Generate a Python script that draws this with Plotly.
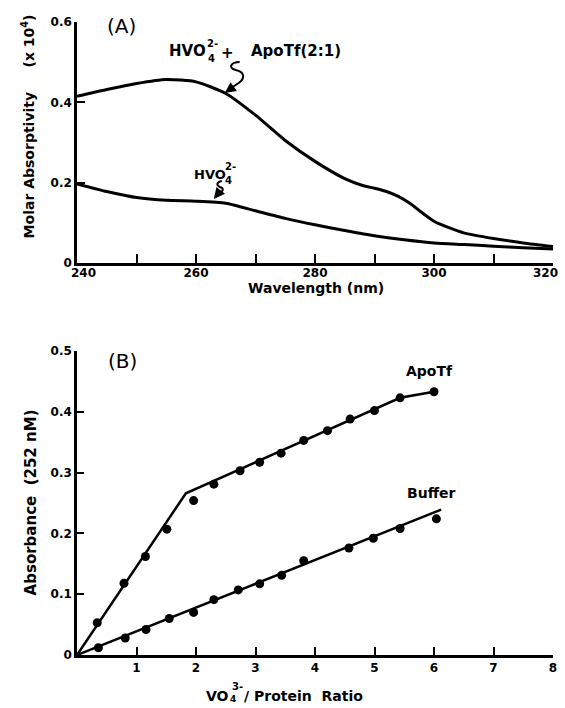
import plotly.graph_objects as go

# ---- Panel A: UV spectra (molar absorptivity x 10^4 vs wavelength) ----
wl_complex = [240, 245, 250, 255, 260, 265, 270, 275, 280, 285, 288, 290, 292, 294,
              296, 298, 300, 302.5, 305, 310, 315, 320]
eps_complex = [0.415, 0.432, 0.447, 0.457, 0.451, 0.422, 0.368, 0.305, 0.253, 0.210,
               0.193, 0.186, 0.178, 0.166, 0.148, 0.125, 0.104, 0.088, 0.075, 0.061,
               0.050, 0.041]

wl_free = [240, 245, 250, 255, 260, 265, 270, 275, 280, 285, 290, 295, 300, 305,
           310, 315, 320]
eps_free = [0.197, 0.178, 0.163, 0.156, 0.154, 0.149, 0.130, 0.111, 0.095, 0.081,
            0.068, 0.058, 0.050, 0.046, 0.042, 0.038, 0.035]

# ---- Panel B: titration, absorbance at 252 nm vs vanadate/protein ratio ----
ratio_apotf = [0.34, 0.79, 1.15, 1.51, 1.96, 2.30, 2.74, 3.07, 3.43, 3.81, 4.21,
               4.59, 5.00, 5.43, 6.00]
abs_apotf = [0.053, 0.118, 0.162, 0.207, 0.254, 0.281, 0.303, 0.317, 0.332, 0.353,
             0.369, 0.388, 0.402, 0.423, 0.433]
fit_apotf_x = [0, 1.83, 5.43, 6.00]
fit_apotf_y = [0, 0.266, 0.423, 0.433]

ratio_buffer = [0.36, 0.81, 1.16, 1.55, 1.96, 2.30, 2.71, 3.07, 3.44, 3.81, 4.57,
                4.98, 5.43, 6.04]
abs_buffer = [0.012, 0.028, 0.042, 0.060, 0.070, 0.091, 0.107, 0.117, 0.131, 0.155,
              0.176, 0.192, 0.208, 0.224]
fit_buffer_x = [0, 6.12]
fit_buffer_y = [0, 0.239]

a_xticks = [240, 250, 260, 270, 280, 290, 300, 310, 320]
a_xlabels = ["", "", "260", "", "280", "", "300", "", ""]
# end labels drawn as text, nudged inward from the axis ends
a_first_label = "240"
a_last_label = "320"
a_yticks = [0, 0.2, 0.4, 0.6]
a_ylabels = ["0", "0.2", "0.4", "0.6"]
b_xticks = [1, 2, 3, 4, 5, 6, 7, 8]
b_xlabels = ["1", "2", "3", "4", "5", "6", "7", "8"]
b_yticks = [0, 0.1, 0.2, 0.3, 0.4, 0.5]
b_ylabels = ["0", "0.1", "0.2", "0.3", "0.4", "0.5"]

W, H = 565, 708
ML, MR, MT, MB = 77, 8, 22, 53
PW, PH = W - ML - MR, H - MT - MB
FONT = "DejaVu Sans"


def paper(xp, yp):
    """Convert page pixel coordinates to paper coordinates."""
    return (xp - ML) / PW, (H - MB - yp) / PH


fig = go.Figure()

line_a = dict(color="black", width=3)
fig.add_trace(go.Scatter(x=wl_complex, y=eps_complex, mode="lines",
                         line=dict(line_a, shape="spline", smoothing=0.6),
                         xaxis="x", yaxis="y", showlegend=False))
fig.add_trace(go.Scatter(x=wl_free, y=eps_free, mode="lines",
                         line=dict(line_a, shape="spline", smoothing=0.6),
                         xaxis="x", yaxis="y", showlegend=False))

line_b = dict(color="black", width=2.5)
fig.add_trace(go.Scatter(x=fit_apotf_x, y=fit_apotf_y, mode="lines", line=line_b,
                         xaxis="x2", yaxis="y2", showlegend=False))
fig.add_trace(go.Scatter(x=fit_buffer_x, y=fit_buffer_y, mode="lines", line=line_b,
                         xaxis="x2", yaxis="y2", showlegend=False))
fig.add_trace(go.Scatter(x=ratio_apotf, y=abs_apotf, mode="markers",
                         marker=dict(color="black", size=9),
                         xaxis="x2", yaxis="y2", showlegend=False))
fig.add_trace(go.Scatter(x=ratio_buffer, y=abs_buffer, mode="markers",
                         marker=dict(color="black", size=9),
                         xaxis="x2", yaxis="y2", showlegend=False))

a_top = paper(0, 263)[1]
b_top = paper(0, 351)[1]

axis_common = dict(showline=True, linecolor="black", linewidth=2.5, showgrid=False,
                   zeroline=False, ticks="inside", tickcolor="black", tickwidth=2,
                   tickfont=dict(family=FONT, size=12, color="black", weight="bold"),
                   fixedrange=True)

fig.update_layout(
    width=W, height=H,
    margin=dict(l=ML, r=MR, t=MT, b=MB),
    paper_bgcolor="white", plot_bgcolor="white",
    font=dict(family=FONT, color="black"),
    xaxis=dict(axis_common, domain=[0, 1], range=[240, 320], anchor="y",
               tickvals=a_xticks, ticktext=a_xlabels, ticklen=9,
               ticklabelstandoff=-3),
    yaxis=dict(axis_common, domain=[a_top, 1], range=[0, 0.6], anchor="x",
               tickvals=a_yticks, ticktext=a_ylabels, ticklen=8),
    xaxis2=dict(axis_common, domain=[0, 1], range=[0, 8], anchor="y2",
                tickvals=b_xticks, ticktext=b_xlabels, ticklen=8),
    yaxis2=dict(axis_common, domain=[0, b_top], range=[0, 0.5], anchor="x2",
                tickvals=b_yticks, ticktext=b_ylabels, ticklen=7),
)

annotations = []


def label(text, xp, yp, size, bold=True, xanchor="center", angle=0):
    x, y = paper(xp, yp)
    annotations.append(dict(
        text=text, x=x, y=y, xref="paper", yref="paper", showarrow=False,
        xanchor=xanchor, yanchor="middle", textangle=angle,
        font=dict(family=FONT, size=size, color="black",
                  weight="bold" if bold else "normal")))


# wavelength end labels
label(a_first_label, 84, 273, 12)
label(a_last_label, 549, 273, 12)

# panel tags
label("(A)", 122, 26, 20, bold=False)
label("(B)", 123, 361, 20, bold=False)

# axis titles
label("Wavelength (nm)", 318, 288, 14)
label("Molar Absorptivity\u00a0\u00a0\u00a0\u00a0\u00a0(x 10<sup>4</sup>)", 28, 126, 14, angle=-90)
label("Absorbance\u00a0\u00a0(252\u00a0nM)", 31, 502, 15, angle=-90)
label("VO", 205, 696, 14, xanchor="left")
label("3-", 231, 686, 10, xanchor="left")
label("4", 229, 699, 9, xanchor="left")
label("/ Protein\u00a0\u00a0Ratio", 243, 696, 14, xanchor="left")

# curve labels, panel A
label("HVO", 168, 51, 15, xanchor="left")
label("2-", 206, 43, 10, xanchor="left")
label("4", 207, 58, 10, xanchor="left")
label("+", 229, 53, 15)
label("ApoTf(2:1)", 345, 51, 15, xanchor="right")

label("HVO", 193, 174, 13, xanchor="left")
label("2-", 224, 166, 10, xanchor="left")
label("4", 224, 180, 10, xanchor="left")

# curve labels, panel B
label("ApoTf", 432, 371, 14)
label("Buffer", 434, 493, 14)


def squiggle(points):
    """SVG path (paper units) for an S-shaped leader built from pixel points."""
    p = [paper(*pt) for pt in points]
    s = "M {:.5f},{:.5f} ".format(*p[0])
    s += "C {:.5f},{:.5f} {:.5f},{:.5f} {:.5f},{:.5f} ".format(*p[1], *p[2], *p[3])
    s += "C {:.5f},{:.5f} {:.5f},{:.5f} {:.5f},{:.5f} ".format(*p[4], *p[5], *p[6])
    s += "L {:.5f},{:.5f}".format(*p[7])
    return s


shapes = [
    dict(type="path", xref="paper", yref="paper",
         path=squiggle([(241, 62), (232, 62), (229, 68), (237, 70),
                        (246, 72), (247, 78), (240, 83), (231, 89)]),
         line=dict(color="black", width=2)),
    dict(type="path", xref="paper", yref="paper",
         path=squiggle([(223, 181), (218, 182), (217, 185), (221, 187),
                        (225, 188), (225, 191), (221, 193), (218, 195)]),
         line=dict(color="black", width=2)),
]

# arrowheads at the end of each leader
for tip, tail in [((226, 93), (233, 88)), ((215, 199), (219, 194))]:
    x, y = paper(*tip)
    annotations.append(dict(
        x=x, y=y, xref="paper", yref="paper", text="", showarrow=True,
        ax=tail[0] - tip[0], ay=tail[1] - tip[1], arrowhead=2, arrowsize=1.1,
        arrowwidth=2, arrowcolor="black"))

fig.update_layout(annotations=annotations, shapes=shapes)

fig.write_html("out.html")
